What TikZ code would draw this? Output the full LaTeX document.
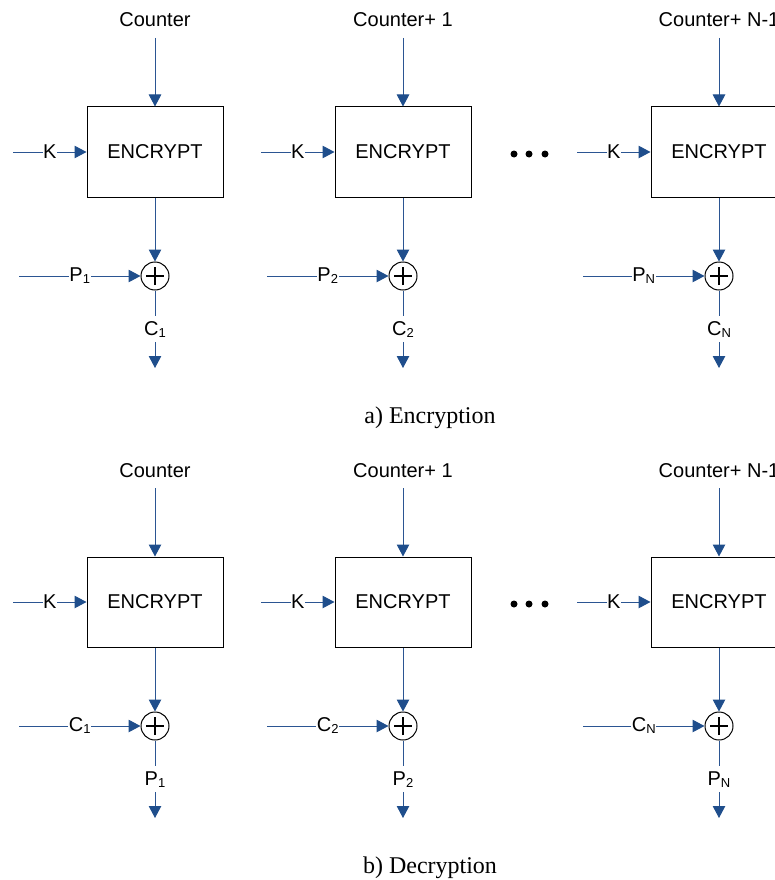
\documentclass[tikz,border=0pt]{standalone}
\usepackage{fontspec}
\setmainfont{Liberation Sans}
\newfontfamily\capfont{Liberation Serif}
\usetikzlibrary{arrows.meta}
\definecolor{flow}{HTML}{2B5592}
\definecolor{tipc}{HTML}{1F4E8C}
% lowered, smaller index for the block labels
\newcommand\sbs[1]{\raisebox{-2pt}{\fontsize{13}{13}\selectfont #1}}

\begin{document}
\begin{tikzpicture}[x=1pt,y=-1pt,
  flowline/.style={draw=flow, line width=1pt,
    -{Triangle[length=12pt,width=12.5pt,fill=tipc,color=tipc]}},
  encbox/.style={draw=black, line width=1pt, minimum width=136pt,
    minimum height=90pt, inner sep=0pt, font=\fontsize{20}{22}\selectfont},
  xorc/.style={draw=black, line width=1pt, circle, minimum size=28pt,
    inner sep=0pt, fill=white},
  tag/.style={fill=white, inner xsep=0.5pt, inner ysep=5pt,
    font=\fontsize{20}{22}\selectfont},
  ctr/.style={anchor=base, inner sep=0pt, font=\fontsize{20}{22}\selectfont},
  caption/.style={anchor=base, inner sep=0pt, font=\capfont\fontsize{24}{28}\selectfont},
  dotmark/.style={circle, fill=black, inner sep=0pt, minimum size=7pt},
]
\clip (0,0) rectangle (775,880);

\foreach \pn/\dy/\ina/\outa/\captext in
  {a/0/P/C/a) Encryption, b/450/C/P/b) Decryption}{
  \foreach \col/\cx/\ctext/\sub in
    {1/155/Counter/1, 2/403/Counter+ 1/2, 3/719/Counter+ N-1/N}{
    \node[ctr] (cnt-\pn\col) at (\cx, 27+\dy) {\ctext};
    \node[encbox] (enc-\pn\col) at (\cx, 152+\dy) {ENCRYPT};
    \node[xorc] (xor-\pn\col) at (\cx, 276+\dy) {};
    \draw[line width=1.8pt] ([xshift=-9pt]xor-\pn\col.center) -- ([xshift=9pt]xor-\pn\col.center);
    \draw[line width=1.8pt] ([yshift=-9pt]xor-\pn\col.center) -- ([yshift=9pt]xor-\pn\col.center);

    \coordinate (ctop-\pn\col) at (\cx, 38+\dy);
    \coordinate (kin-\pn\col) at (\cx-142, 152+\dy);
    \coordinate (pin-\pn\col) at (\cx-136, 276+\dy);
    \coordinate (out-\pn\col) at (\cx, 368+\dy);

    \draw[flowline] (ctop-\pn\col) -- (enc-\pn\col.north);
    \draw[flowline] (kin-\pn\col) -- node[tag] (k-\pn\col) {K} (enc-\pn\col.west);
    \draw[flowline] (enc-\pn\col.south) -- (xor-\pn\col.north);
    \draw[flowline] (pin-\pn\col) -- node[tag] (in-\pn\col) {\ina\sbs{\sub}} (xor-\pn\col.west);
    \draw[flowline] (xor-\pn\col.south) -- node[tag] (res-\pn\col) {\outa\sbs{\sub}} (out-\pn\col);
  }
  % ellipsis between the second and the last block
  \foreach \k/\dx in {1/514, 2/529, 3/545}
    \node[dotmark] (dot-\pn\k) at (\dx, 154+\dy) {};
  \node[caption] (cap-\pn) at (430, 423+\dy) {\captext};
}
\end{tikzpicture}
\end{document}
